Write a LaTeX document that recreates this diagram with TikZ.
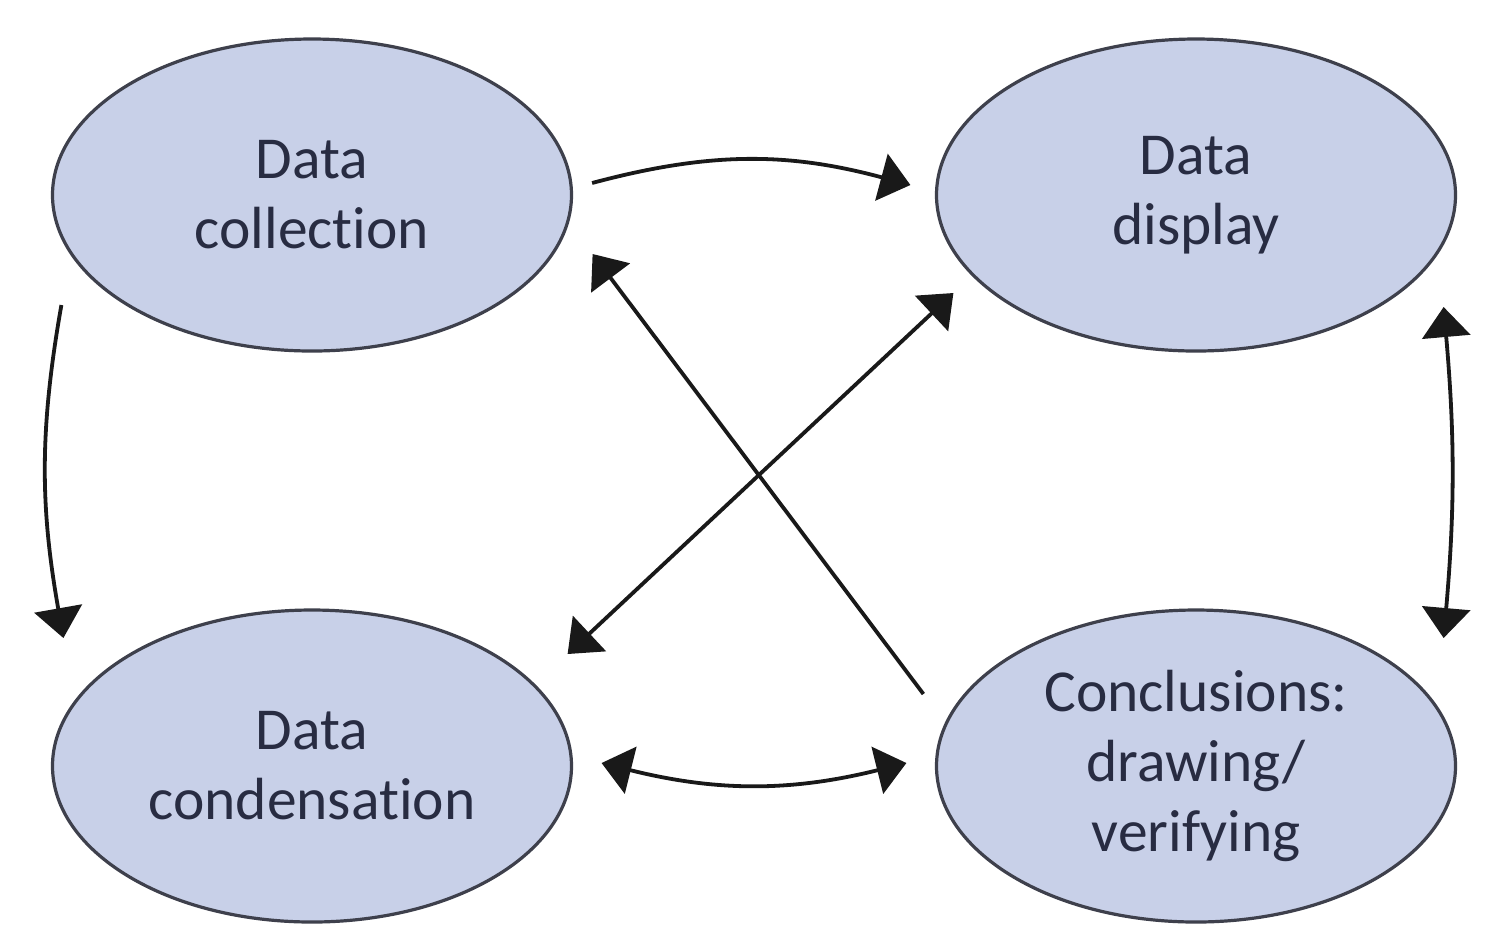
\documentclass[tikz,border=0pt]{standalone}
\usepackage{fontspec}
\setmainfont[Ligatures=NoCommon]{Carlito}
\usetikzlibrary{arrows.meta,calc,shapes.geometric}
\definecolor{ellfill}{RGB}{200,208,232}
\definecolor{ellline}{RGB}{62,64,76}
\definecolor{txt}{RGB}{40,44,66}
\begin{document}
\begin{tikzpicture}[x=0.5pt,y=0.5pt,
  stage/.style={ellipse, draw=ellline, line width=1.6pt, fill=ellfill,
    minimum width=259.5pt, minimum height=156pt, inner sep=0pt, align=center,
    text=txt, font=\fontsize{29.75pt}{35pt}\selectfont},
  conn/.style={line width=1.9pt, draw=black!90},
  >={Triangle[length=15pt,width=24pt]}]
\useasboundingbox (0,0) rectangle (1508,-950);
\fill[white] (0,0) rectangle (1508,-950);
\node[stage] (c1) at (312,-195) {Data\\collection};
\node[stage] (c2) at (1196,-195) {Data\\display};
\node[stage] (c3) at (312,-766) {Data\\condensation};
\node[stage] (c4) at (1196,-766) {Conclusions:\\drawing/\\verifying};
\draw[conn,->] ($(c1.east)+(19,12)$) to[out=15,in=165] ($(c2.west)+(-24.5,10)$);
\draw[conn,->] ($(c1.west)+(10.5,-110)$) to[out=-100,in=100] ($(c3.west)+(12.5,128)$);
\draw[conn,<->] ($(c2.east)+(-13.5,-112)$) to[out=-85,in=85] ($(c4.east)+(-13.5,128)$);
\draw[conn,<->] ($(c3.east)+(28.5,3)$) to[out=-14,in=-166] ($(c4.west)+(-28.5,3)$);
\draw[conn,->] ($(c4.west)+(-11.5,72)$) -- ($(c1.east)+(19.5,-59)$);
\draw[conn,<->] ($(c3.east)+(-5.5,112)$) -- ($(c2.west)+(18.5,-98)$);
\end{tikzpicture}
\end{document}
